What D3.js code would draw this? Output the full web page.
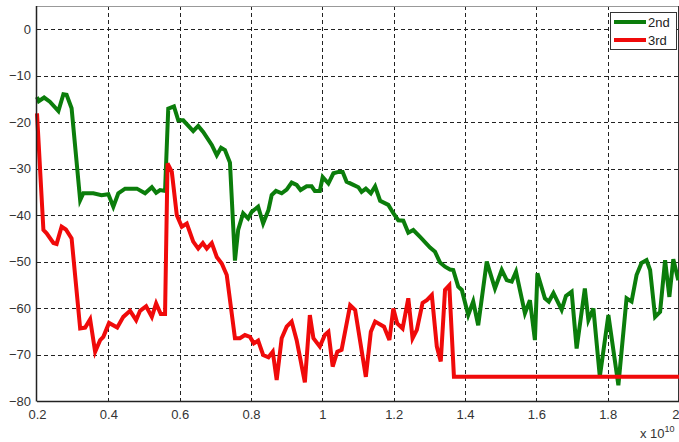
<!DOCTYPE html>
<html><head><meta charset="utf-8">
<script src="https://cdn.jsdelivr.net/npm/d3@7"></script>
<style>body{margin:0;background:#fff;}svg{display:block;font-family:"Liberation Sans",Arial,sans-serif;}</style>
</head><body>
<svg id="c" width="679" height="442"></svg>
<script>
const xTicks = [0.2,0.4,0.6,0.8,1,1.2,1.4,1.6,1.8,2];
const yTicks = [0,-10,-20,-30,-40,-50,-60,-70,-80];
const seriesNames = ["2nd","3rd"];
const seriesColors = ["#0b7d0b","#f00a0a"];
const green = [
[0.200,-14.6],[0.205,-15.5],[0.220,-14.7],[0.236,-15.6],[0.260,-17.6],[0.274,-14.0],[0.283,-14.1],[0.297,-17.0],
[0.321,-36.8],[0.330,-35.3],[0.358,-35.3],[0.381,-35.7],[0.400,-35.5],[0.414,-38.2],[0.428,-35.3],[0.447,-34.3],
[0.480,-34.3],[0.503,-35.3],[0.522,-34.0],[0.534,-35.2],[0.545,-34.6],[0.559,-34.8],[0.568,-17.1],[0.584,-16.6],
[0.596,-19.6],[0.610,-19.6],[0.638,-21.9],[0.652,-20.8],[0.666,-22.1],[0.690,-24.9],[0.704,-27.1],[0.716,-25.5],
[0.727,-26.0],[0.741,-28.7],[0.755,-49.8],[0.764,-43.2],[0.778,-39.6],[0.792,-40.7],[0.802,-39.3],[0.820,-38.2],
[0.834,-41.8],[0.849,-38.9],[0.858,-35.7],[0.870,-34.8],[0.886,-35.3],[0.900,-34.5],[0.914,-33.0],[0.928,-33.5],
[0.939,-34.6],[0.956,-33.8],[0.970,-33.8],[0.979,-34.8],[0.993,-34.8],[1.001,-31.8],[1.017,-33.2],[1.031,-31.0],
[1.045,-30.7],[1.057,-30.7],[1.068,-32.8],[1.087,-33.5],[1.101,-34.0],[1.110,-35.0],[1.122,-34.3],[1.136,-35.3],
[1.148,-33.8],[1.162,-36.9],[1.185,-37.8],[1.199,-39.6],[1.213,-41.1],[1.227,-41.2],[1.241,-43.8],[1.255,-43.2],
[1.274,-44.7],[1.302,-47.0],[1.316,-47.9],[1.330,-50.2],[1.344,-51.1],[1.358,-51.7],[1.367,-51.8],[1.381,-55.4],
[1.391,-56.1],[1.409,-61.5],[1.423,-58.6],[1.437,-63.7],[1.461,-50.0],[1.484,-55.8],[1.503,-51.8],[1.517,-54.0],
[1.531,-54.3],[1.543,-52.2],[1.568,-61.1],[1.582,-58.3],[1.596,-66.9],[1.603,-52.5],[1.624,-57.9],[1.635,-58.6],
[1.648,-56.8],[1.671,-60.4],[1.683,-57.4],[1.699,-56.5],[1.713,-68.7],[1.736,-55.8],[1.746,-62.6],[1.760,-60.1],
[1.778,-74.8],[1.802,-61.5],[1.830,-76.6],[1.853,-57.9],[1.867,-58.6],[1.881,-52.9],[1.895,-50.3],[1.909,-49.7],
[1.919,-51.8],[1.933,-61.9],[1.947,-60.8],[1.961,-49.7],[1.973,-57.6],[1.984,-49.5],[1.998,-54.0]
];
const red = [
[0.200,-18.1],[0.218,-43.2],[0.227,-43.9],[0.246,-46.0],[0.255,-46.2],[0.269,-42.5],[0.281,-43.1],[0.297,-45.0],
[0.321,-64.4],[0.335,-64.2],[0.349,-62.4],[0.363,-69.4],[0.377,-66.9],[0.386,-66.2],[0.402,-63.2],[0.425,-64.2],
[0.442,-61.9],[0.461,-60.6],[0.478,-62.6],[0.489,-60.6],[0.506,-59.6],[0.522,-61.9],[0.534,-59.0],[0.547,-61.3],
[0.559,-61.3],[0.566,-28.9],[0.578,-30.7],[0.592,-40.0],[0.606,-42.5],[0.620,-41.8],[0.638,-45.7],[0.652,-47.2],
[0.665,-46.0],[0.676,-47.2],[0.690,-46.0],[0.704,-49.0],[0.718,-50.4],[0.732,-52.9],[0.755,-66.5],[0.769,-66.5],
[0.783,-65.8],[0.797,-66.2],[0.808,-67.6],[0.820,-67.0],[0.834,-70.1],[0.849,-70.6],[0.861,-69.4],[0.872,-75.5],
[0.886,-66.5],[0.900,-64.0],[0.914,-62.9],[0.928,-66.9],[0.951,-76.0],[0.965,-61.5],[0.975,-66.5],[0.993,-68.3],
[1.007,-65.8],[1.017,-65.1],[1.029,-72.6],[1.042,-69.4],[1.054,-69.0],[1.078,-59.4],[1.092,-60.4],[1.122,-74.8],
[1.136,-65.1],[1.148,-62.9],[1.173,-64.0],[1.188,-66.9],[1.199,-60.1],[1.210,-63.3],[1.225,-64.4],[1.241,-57.9],
[1.253,-66.5],[1.265,-64.7],[1.281,-58.9],[1.293,-58.3],[1.307,-57.2],[1.321,-68.3],[1.332,-71.5],[1.344,-56.1],
[1.356,-55.1],[1.369,-74.8],[2.000,-74.8]
];

const svg = d3.select("#c");
const L = 37, T = 6, R = 679, B = 401;
const x = d3.scaleLinear().domain([0.2, 2]).range([L, R]);
const y = d3.scaleLinear().domain([-80, 5]).range([B, T]);

// grid
const g = svg.append("g");
g.selectAll(".vx").data(xTicks.slice(1)).enter().append("line")
  .attr("x1", d => Math.round(x(d)) + 0.5).attr("x2", d => Math.round(x(d)) + 0.5)
  .attr("y1", T).attr("y2", B).attr("stroke", "#222").attr("stroke-width", 1).attr("stroke-dasharray", "4,3");
g.selectAll(".hy").data(yTicks.slice(0, -1)).enter().append("line")
  .attr("y1", d => Math.round(y(d)) + 0.5).attr("y2", d => Math.round(y(d)) + 0.5)
  .attr("x1", L).attr("x2", R).attr("stroke", "#222").attr("stroke-width", 1).attr("stroke-dasharray", "4,3");

// frame
svg.append("line").attr("x1", L).attr("x2", R).attr("y1", T + 0.5).attr("y2", T + 0.5).attr("stroke", "#999");
svg.append("line").attr("x1", R - 0.5).attr("x2", R - 0.5).attr("y1", T).attr("y2", B).attr("stroke", "#333");

// lines
const line = d3.line().x(d => x(d[0])).y(d => y(d[1]));
[green, red].forEach((s, i) => {
  svg.append("path").datum(s).attr("d", line).attr("fill", "none")
    .attr("stroke", seriesColors[i]).attr("stroke-width", 4).attr("stroke-linejoin", "miter").attr("stroke-miterlimit", 4);
});

// axes
const xAxis = d3.axisBottom(x).tickValues(xTicks).tickFormat(d3.format("")).tickSize(0).tickPadding(9);
const yAxis = d3.axisLeft(y).tickValues(yTicks).tickFormat(d3.format("")).tickSize(0).tickPadding(6);
const ax = svg.append("g").attr("transform", `translate(0,${B})`).call(xAxis);
const ay = svg.append("g").attr("transform", `translate(${L},0)`).call(yAxis);
[ax, ay].forEach(a => {
  a.select(".domain").remove();
  a.selectAll("text").attr("fill", "#333").style("font-size", "13px").style("font-family", "Liberation Sans, Arial, sans-serif");
});
// keep the last x label inside the picture
ax.selectAll(".tick text").filter(d => d === 2).attr("text-anchor", "end").attr("x", 0);
svg.append("line").attr("x1", L - 0.5).attr("x2", L - 0.5).attr("y1", T).attr("y2", B + 0.5).attr("stroke", "#222").attr("stroke-width", 1.5);
svg.append("line").attr("x1", L).attr("x2", R).attr("y1", B + 0.5).attr("y2", B + 0.5).attr("stroke", "#222").attr("stroke-width", 1.5);

// exponent label
const ex = svg.append("text").attr("x", 640).attr("y", 438).attr("fill", "#333").style("font-size", "13px");
ex.append("tspan").text("x 10");
ex.append("tspan").attr("dy", -6).style("font-size", "9px").text("10");

// legend
const lg = svg.append("g");
lg.append("rect").attr("x", 610.5).attr("y", 12.5).attr("width", 66).attr("height", 37)
  .attr("fill", "#fff").attr("stroke", "#333").attr("stroke-width", 1);
seriesNames.forEach((n, i) => {
  const yy = 22 + i * 18;
  lg.append("line").attr("x1", 614).attr("x2", 646).attr("y1", yy).attr("y2", yy)
    .attr("stroke", seriesColors[i]).attr("stroke-width", 4);
  lg.append("text").attr("x", 648).attr("y", yy + 4.5).attr("fill", "#222").style("font-size", "13px").text(n);
});
</script>
</body></html>
